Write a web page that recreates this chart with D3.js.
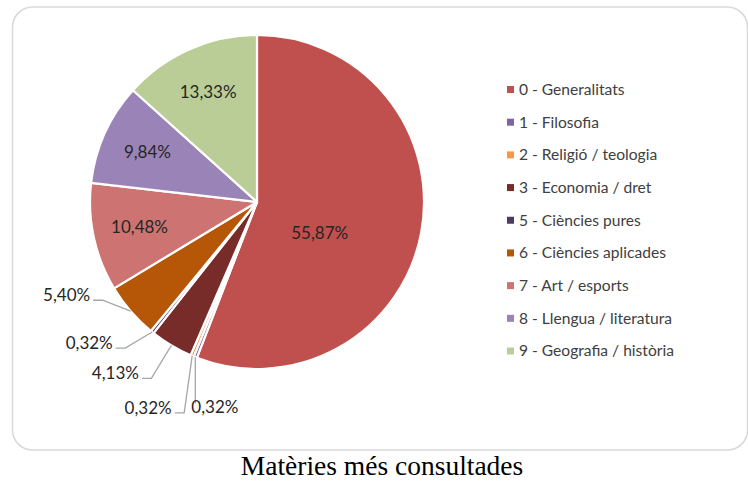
<!DOCTYPE html>
<html>
<head>
<meta charset="utf-8">
<script src="https://cdn.jsdelivr.net/npm/d3@7"></script>
<style>
  html, body { margin: 0; padding: 0; background: #fff; }
  svg { display: block; }
</style>
</head>
<body>
<svg id="chart" width="748" height="481"></svg>
<script>
// ---- data ----
const categories = ["0 - Generalitats", "1 - Filosofia", "2 - Religió / teologia", "3 - Economia / dret",
  "5 - Ciències pures", "6 - Ciències aplicades", "7 - Art / esports", "8 - Llengua / literatura",
  "9 - Geografia / història"];
const values = [55.87, 0.32, 0.32, 4.13, 0.32, 5.40, 10.48, 9.84, 13.33];
const colors = ["#C0504D", "#8064A2", "#F79646", "#772C2A", "#4D3B62", "#B65708", "#CD7371", "#9A83B6", "#BACD96"];
const title = "Matèries més consultades";

// ---- layout ----
const W = 748, H = 481;
const cx = 257, cy = 202, R = 167;
const labelFont = "Lato, 'Open Sans', sans-serif";
const fmt = v => d3.format(".2f")(v).replace(".", ",") + "%";

// leader elbows for small slices: offset from rim point, side of label
const leaderLayout = {
  1: {dx: 0, dy: 46, side: "below"},
  2: {dx: -8, dy: 57, side: "left"},
  3: {dx: -20, dy: 33, side: "left"},
  4: {dx: -27, dy: 16, side: "left"},
  5: {dx: -28, dy: -11, side: "left"}
};

const svg = d3.select("#chart");

// frame
svg.append("rect")
  .attr("x", 12.5).attr("y", 7).attr("width", 735).attr("height", 443)
  .attr("rx", 20).attr("ry", 20)
  .attr("fill", "#fff").attr("stroke", "#d9d9d9").attr("stroke-width", 1.5);

const pie = d3.pie().sort(null).value(d => d);
const arcs = pie(values);
const arc = d3.arc().innerRadius(0).outerRadius(R);

const g = svg.append("g").attr("transform", `translate(${cx},${cy})`);

g.selectAll("path.slice")
  .data(arcs)
  .join("path")
  .attr("class", "slice")
  .attr("d", arc)
  .attr("fill", (d, i) => colors[i])
  .attr("stroke", "#fff")
  .attr("stroke-width", 2.2)
  .attr("stroke-linejoin", "round");

const maxV = d3.max(values);
const polar = (a, r) => [r * Math.sin(a), -r * Math.cos(a)];

arcs.forEach((d, i) => {
  const mid = (d.startAngle + d.endAngle) / 2;
  const txt = fmt(values[i]);
  if (values[i] === maxV) {
    const [x, y] = polar(mid + 0.28, R * 0.42);
    g.append("text").attr("x", x).attr("y", y).attr("dy", "0.35em")
      .attr("text-anchor", "middle").attr("font-family", labelFont).attr("font-size", 17)
      .attr("fill", "#262626").text(txt);
  } else if (values[i] >= 8) {
    const [x, y] = polar(mid, R * 0.72);
    g.append("text").attr("x", x).attr("y", y).attr("dy", "0.35em")
      .attr("text-anchor", "middle").attr("font-family", labelFont).attr("font-size", 17)
      .attr("fill", "#262626").text(txt);
  } else {
    const lay = leaderLayout[i];
    const [rx, ry] = polar(mid, R);
    const ex = rx + lay.dx, ey = ry + lay.dy;
    let pts, tx, ty, anchor;
    if (lay.side === "left") {
      pts = [[rx, ry], [ex, ey], [ex - 9.5, ey]];
      tx = ex - 12.5; ty = ey + 1; anchor = "end";
    } else {
      pts = [[rx, ry], [ex, ey]];
      tx = ex - 4; ty = ey + 10; anchor = "start";
    }
    g.append("path").attr("d", d3.line()(pts))
      .attr("fill", "none").attr("stroke", "#a6a6a6").attr("stroke-width", 1.3);
    g.append("text").attr("x", tx).attr("y", ty)
      .attr("text-anchor", anchor).attr("font-family", labelFont).attr("font-size", 17)
      .attr("fill", "#262626").text(txt);
  }
});

// legend
const legY = d3.scalePoint().domain(d3.range(categories.length)).range([89.5, 351]);
const leg = svg.append("g");
categories.forEach((c, i) => {
  const y = legY(i);
  leg.append("rect").attr("x", 507).attr("y", y - 3.5).attr("width", 7).attr("height", 7)
    .attr("fill", colors[i]);
  leg.append("text").attr("x", 519).attr("y", y).attr("dy", "0.35em")
    .attr("font-family", labelFont).attr("font-size", 15.6).attr("fill", "#404040").text(c);
});

// title
svg.append("text").attr("x", 382).attr("y", 475).attr("text-anchor", "middle")
  .attr("font-family", "'Liberation Serif', 'DejaVu Serif', serif").attr("font-size", 27.5)
  .attr("fill", "#000").text(title);
</script>
</body>
</html>
